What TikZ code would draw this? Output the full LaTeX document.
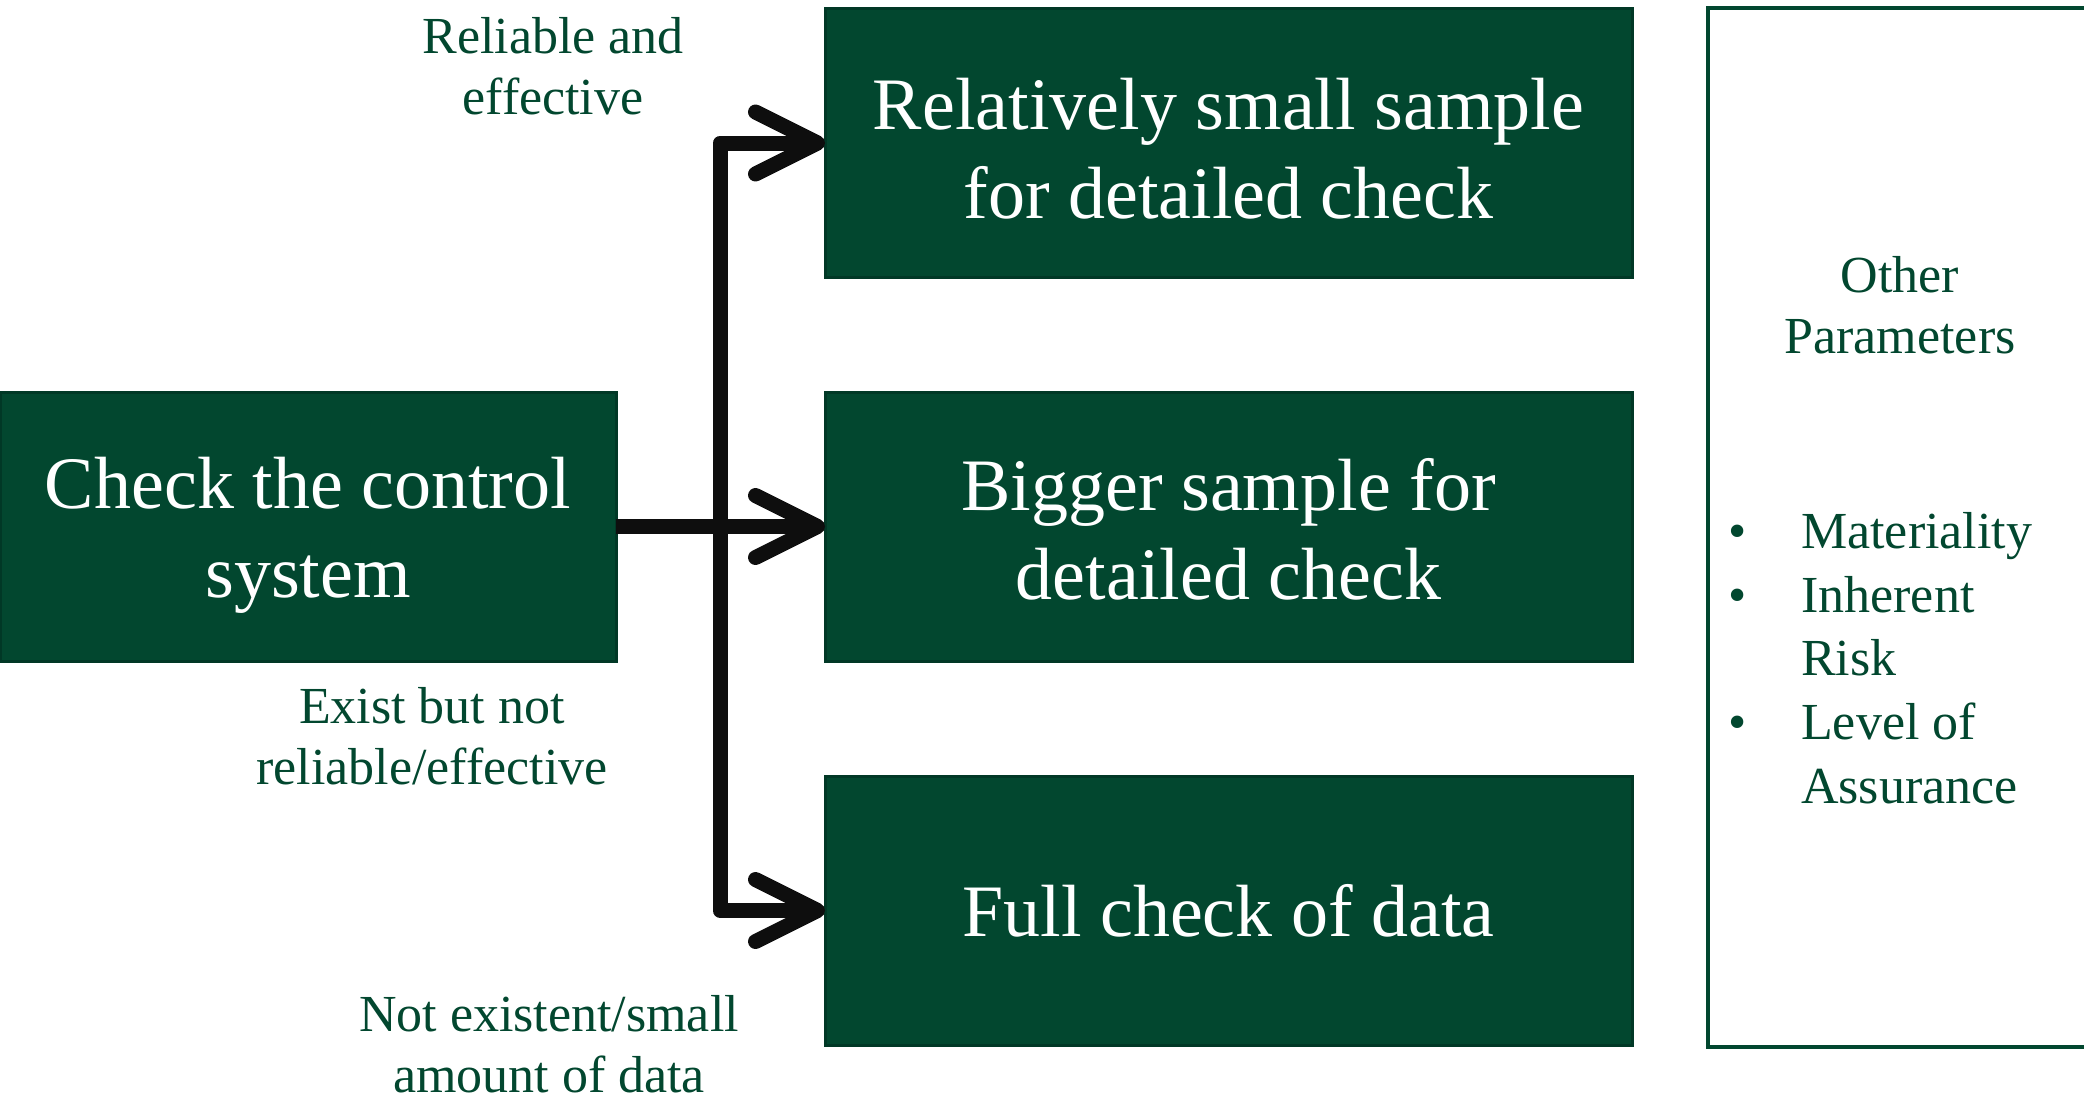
\documentclass[tikz,border=0pt]{standalone}
\usepackage{fontspec}
\setmainfont{Liberation Serif}
\usetikzlibrary{arrows.meta}
\definecolor{dg}{HTML}{02472F}
\definecolor{dgb}{HTML}{013826}
\definecolor{arr}{HTML}{0E0E0E}
\begin{document}
\begin{tikzpicture}[x=1pt,y=-1pt,
  box/.style={draw=dgb, line width=3pt, fill=dg, text=white, align=center,
    font=\fontsize{74}{89}\selectfont, inner sep=0pt, outer sep=0pt,
    minimum height=269pt},
  lab/.style={text=dg, align=center, font=\fontsize{52}{61}\selectfont, inner sep=0pt},
  item/.style={text=dg, font=\fontsize{52}{61}\selectfont, inner sep=0pt, anchor=base west},
  bul/.style={text=dg, font=\fontsize{52}{61}\selectfont, inner sep=0pt, anchor=base},
  conn/.style={line width=15pt, draw=arr, line join=round,
    -{Straight Barb[length=62pt,width=62pt,round]}}]
\useasboundingbox (0,0) rectangle (2084,1097);
\clip (0,0) rectangle (2084,1097);
% boxes
\node[box, minimum width=616pt] (lb) at (308,526.5) {\rule{0pt}{68pt}Check the control\\system};
\node[box, minimum width=807pt] (b1) at (1228.5,143) {\rule{0pt}{62pt}Relatively small sample\\for detailed check};
\node[box, minimum width=807pt] (b2) at (1228.5,526.5) {\rule{0pt}{58pt}Bigger sample for\\detailed check};
\node[box, minimum width=807pt] (b3) at (1228.5,910.5) {Full check of data};
% right panel
\node[draw=dg, line width=4pt, fill=white, minimum width=492pt, minimum height=1039pt, inner sep=0pt] (rb) at (1954,527.5) {};
\node[lab] (op) at (1900,305) {Other\\Parameters};
\node[bul] (d1) at (1738,548) {•};
\node[bul] (d2) at (1738,612) {•};
\node[bul] (d3) at (1738,739) {•};
\node[item] (i1) at (1801,548) {Materiality};
\node[item] (i2) at (1801,612) {Inherent};
\node[item] (i2b) at (1801,675) {Risk};
\node[item] (i3) at (1801,739) {Level of};
\node[item] (i3b) at (1801,803) {Assurance};
% labels
\node[lab] (l1) at (553,66) {Reliable and\\effective};
\node[lab] (l2) at (432,736) {Exist but not\\reliable/effective};
\node[lab] (l3) at (549,1044) {Not existent/small\\amount of data};
% connectors
\coordinate (j) at (720,526.5);
\draw[conn] (lb.east) -- (b2.west);
\draw[conn] (j) |- (b1.west);
\draw[conn] (j) |- (b3.west);
\end{tikzpicture}
\end{document}
